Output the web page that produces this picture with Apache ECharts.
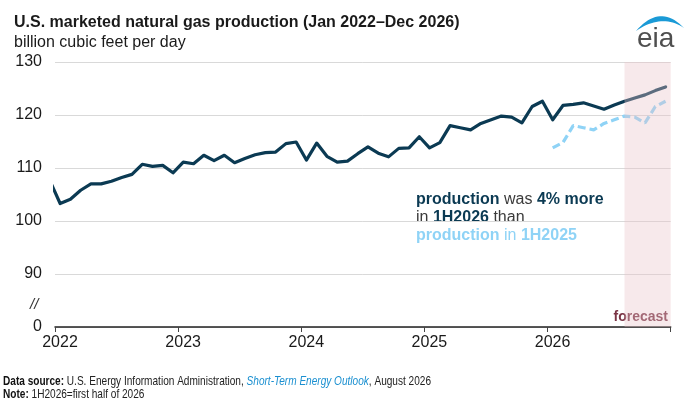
<!DOCTYPE html>
<html>
<head>
<meta charset="utf-8">
<script src="https://cdn.jsdelivr.net/npm/echarts@6/dist/echarts.min.js"></script>
<style>html,body{margin:0;padding:0;background:#fff}#c{width:689px;height:404px}</style>
</head>
<body>
<div id="c"></div>
<script>
// ---- data ----
const months = [
  '2021-12',
  '2022-01','2022-02','2022-03','2022-04','2022-05','2022-06','2022-07','2022-08','2022-09','2022-10','2022-11','2022-12',
  '2023-01','2023-02','2023-03','2023-04','2023-05','2023-06','2023-07','2023-08','2023-09','2023-10','2023-11','2023-12',
  '2024-01','2024-02','2024-03','2024-04','2024-05','2024-06','2024-07','2024-08','2024-09','2024-10','2024-11','2024-12',
  '2025-01','2025-02','2025-03','2025-04','2025-05','2025-06','2025-07','2025-08','2025-09','2025-10','2025-11','2025-12',
  '2026-01','2026-02','2026-03','2026-04','2026-05','2026-06','2026-07','2026-08','2026-09','2026-10','2026-11','2026-12'
];
const production = [
  107.6,
  103.3, 104.1, 105.8, 107.0, 107.0, 107.5, 108.2, 108.8, 110.7, 110.3, 110.5, 109.1,
  111.1, 110.8, 112.4, 111.4, 112.4, 111.0, 111.8, 112.5, 112.9, 113.0, 114.6, 114.9,
  111.5, 114.7, 112.2, 111.1, 111.3, 112.7, 114.0, 112.8, 112.1, 113.7, 113.8, 115.9,
  113.8, 114.8, 118.0, 117.6, 117.2, 118.4, 119.1, 119.8, 119.6, 118.5, 121.6, 122.6,
  119.1, 121.8, 122.0, 122.3, 121.7, 121.1, 121.9, 122.6, 123.2, 123.8, 124.6, 125.3
];
// prior-year (2025) production plotted at the same month of 2026
const prevYearMonths = ['2026-01','2026-02','2026-03','2026-04','2026-05','2026-06','2026-07','2026-08','2026-09','2026-10','2026-11','2026-12'];
const prevYearProduction = [113.8, 114.8, 118.0, 117.6, 117.2, 118.4, 119.1, 119.8, 119.6, 118.5, 121.6, 122.6];
const forecastStart = '2026-08';
const axisStartYear = 2022;
const axisEndYear = 2027;
const yTicks = [80, 90, 100, 110, 120, 130];

// month string -> position in months since Jan 1 of first axis year (mid-month)
function toX(m) {
  const [y, mo] = m.split('-').map(Number);
  return (y - axisStartYear) * 12 + (mo - 1) + 0.5;
}

const chart = echarts.init(document.getElementById('c'), null, {renderer: 'canvas'});
const navy = '#0b3a53';
const lightBlue = '#8fd3f6';
const font = 'Liberation Sans, Arial, sans-serif';

// logo swoosh outline (crescent) as polygon points
function quad(p0, p1, p2, n) {
  const pts = [];
  for (let i = 0; i <= n; i++) {
    const t = i / n, u = 1 - t;
    pts.push([u*u*p0[0] + 2*u*t*p1[0] + t*t*p2[0], u*u*p0[1] + 2*u*t*p1[1] + t*t*p2[1]]);
  }
  return pts;
}
const swoosh = quad([636,31],[660,3],[684,28],20).concat(quad([684,28],[662,13],[636,31],20));

chart.setOption({
  animation: false,
  textStyle: {fontFamily: font},
  grid: {left: 55, right: 18.3, top: 62, bottom: 77, containLabel: false},
  xAxis: {
    type: 'value',
    min: 0,
    max: (axisEndYear - axisStartYear) * 12,
    interval: 12,
    axisLine: {show: true, lineStyle: {color: '#222', width: 1.5}},
    axisTick: {show: true, length: 5, lineStyle: {color: '#444', width: 1}},
    splitLine: {show: false},
    axisLabel: {
      fontSize: 16, color: '#1a1a1a', margin: 8, padding: [0, 0, 0, 10],
      formatter: v => v < (axisEndYear - axisStartYear) * 12 ? String(axisStartYear + v / 12) : ''
    }
  },
  yAxis: {
    type: 'value',
    min: yTicks[0],
    max: yTicks[yTicks.length - 1],
    interval: 10,
    axisLine: {show: false},
    axisTick: {show: false},
    splitLine: {lineStyle: {color: '#d9d9d9', width: 1}},
    axisLabel: {
      fontSize: 16, color: '#1a1a1a', margin: 13,
      formatter: v => v === yTicks[0] ? '0' : String(v)
    }
  },
  series: [
    {
      name: 'production',
      type: 'line',
      z: 2,
      symbol: 'none',
      clip: true,
      lineStyle: {color: navy, width: 3.2, join: 'round', cap: 'round'},
      data: months.map((m, i) => [toX(m), production[i]])
    },
    {
      name: 'prior year',
      type: 'line',
      z: 3,
      symbol: 'none',
      lineStyle: {color: lightBlue, width: 3.2, type: [8, 4]},
      data: prevYearMonths.map((m, i) => [toX(m), prevYearProduction[i]])
    },
    {
      name: 'forecast',
      type: 'line',
      z: 10,
      data: [],
      silent: true,
      markArea: {
        z: 20,
        silent: true,
        itemStyle: {color: 'rgba(233,196,201,0.37)'},
        data: [[{xAxis: toX(forecastStart)}, {xAxis: (axisEndYear - axisStartYear) * 12}]]
      }
    }
  ],
  graphic: [
    {type: 'text', left: 14, top: 15, z: 0, style: {text: 'U.S. marketed natural gas production (Jan 2022\u2013Dec 2026)', font: 'bold 16px ' + font, fill: '#1a1a1a'}},
    {type: 'text', left: 14, top: 35, z: 0, style: {text: 'billion cubic feet per day', font: '16px ' + font, fill: '#1a1a1a'}},
    {type: 'text', left: 30, top: 297, z: 0, style: {text: '//', font: 'italic 15px ' + font, fill: '#333'}},
    {type: 'text', right: 21, top: 310, z: 0, style: {text: 'forecast', font: 'bold 14px ' + font, fill: '#7a3445'}},
    {
      type: 'text', left: 416, top: 191, z: 0,
      style: {
        text: '{b|production} {r|was} {b|4% more}\n{r|in} {b|1H2026} {r|than}\n{lb|production} {lr|in} {lb|1H2025}',
        font: '16px ' + font,
        lineHeight: 18,
        rich: {
          b: {fontWeight: 'bold', fontSize: 16, fill: navy, lineHeight: 18, fontFamily: font},
          r: {fontSize: 16, fill: '#3a3a3a', lineHeight: 18, fontFamily: font},
          lb: {fontWeight: 'bold', fontSize: 16, fill: lightBlue, lineHeight: 18, fontFamily: font},
          lr: {fontSize: 16, fill: lightBlue, lineHeight: 18, fontFamily: font}
        }
      }
    },
    {
      type: 'text', x: 3, y: 375, scaleX: 0.775, z: 0,
      style: {
        text: '{b|Data source:} {r|U.S. Energy Information Administration,} {i|Short-Term Energy Outlook}{r|, August 2026}\n{b|Note:} {r|1H2026=first half of 2026}',
        font: '13px ' + font,
        lineHeight: 13,
        rich: {
          b: {fontWeight: 'bold', fontSize: 13, fill: '#111', lineHeight: 13, fontFamily: font},
          r: {fontSize: 13, fill: '#222', lineHeight: 13, fontFamily: font},
          i: {fontSize: 13, fontStyle: 'italic', fill: '#1a8fd0', lineHeight: 13, fontFamily: font}
        }
      }
    },
    {type: 'polygon', z: 0, shape: {points: swoosh}, style: {fill: '#1a9ad6'}},
    {type: 'text', left: 637, top: 25, z: 0, style: {text: 'eia', font: '28px ' + font, fill: '#4f4f4f'}}
  ]
});
</script>
</body>
</html>
